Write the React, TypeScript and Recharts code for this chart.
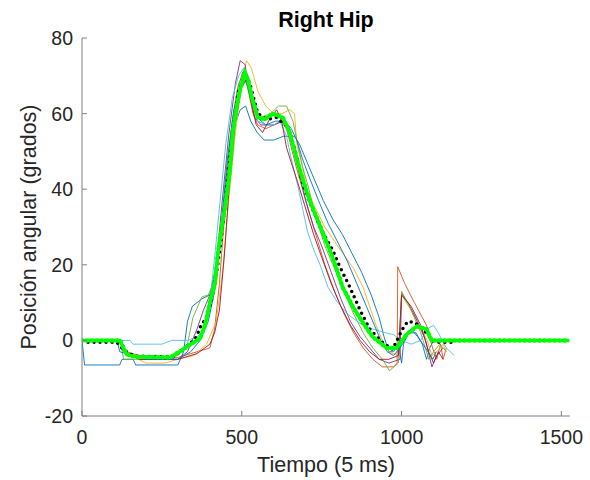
import { LineChart, Line, XAxis, YAxis } from 'recharts'

type Pt = [number, number]

const FONT = '"Liberation Sans", Arial, Helvetica, sans-serif'
const TEXT = '#262626'
const AXIS = '#808080'

const xTicks = [0, 500, 1000, 1500]
const yTicks = [-20, 0, 20, 40, 60, 80]

// individual trials (time in 5 ms samples, angle in degrees)
const trialBlueA: Pt[] = [
  [0, 0], [8, -6.5], [118, -6.5], [125, -5], [160, -5], [168, -6.5], [300, -6.5], [318, -3],
  [330, 5], [345, 9], [375, 11], [400, 12], [412, 14], [425, 22], [440, 33], [458, 48],
  [478, 57], [495, 61], [512, 62], [528, 58], [548, 55], [570, 53], [600, 53], [630, 54],
  [665, 54], [680, 52], [700, 48], [725, 43], [755, 37], [785, 32], [815, 28], [845, 23],
  [875, 18], [905, 12], [930, 6], [945, 1], [960, -3], [975, -3], [990, -1], [1000, -6],
  [1006, -1], [1020, 2], [1045, 2], [1065, -1], [1078, -5], [1088, -2], [1100, 0],
]
const trialOrange: Pt[] = [
  [0, 0], [110, 0], [140, -3], [180, -4], [300, -4.5], [360, -3], [400, -2], [415, 3],
  [430, 15], [445, 32], [465, 54], [485, 66], [503, 71], [518, 67], [535, 60], [550, 57],
  [575, 56], [600, 57], [625, 58], [640, 56], [655, 51], [670, 46], [690, 40], [710, 34],
  [735, 27], [760, 20], [790, 13], [820, 7], [850, 2], [880, -2], [910, -5], [940, -7],
  [975, -7], [986, -6], [988, 19.5], [1010, 15], [1040, 10], [1078, 4], [1097, -2],
  [1110, -5], [1122, -1], [1130, -5], [1140, -2],
]
const trialYellow: Pt[] = [
  [0, 0], [120, 0], [130, -3], [200, -6], [260, -6], [300, -5], [350, -4], [390, -1],
  [420, 5], [440, 18], [460, 38], [480, 55], [500, 68], [515, 74], [530, 72], [550, 66],
  [575, 62], [600, 60], [625, 60], [650, 61], [665, 60], [672, 52], [690, 46], [703, 40],
  [730, 35], [760, 30], [800, 25], [850, 19], [880, 14], [900, 9], [920, 4], [940, 0],
  [960, -3], [990, -4], [1000, 12], [1030, 8], [1060, 3], [1080, 0], [1095, -4],
  [1110, -3], [1130, -1], [1140, -3],
]
const trialPurple: Pt[] = [
  [0, 0], [120, 0], [130, -3], [180, -5], [300, -5], [330, -3], [360, 3], [380, 8],
  [400, 12], [420, 20], [440, 38], [460, 55], [480, 68], [495, 74], [510, 73], [525, 65],
  [540, 59], [560, 57], [600, 57], [630, 58], [650, 56], [665, 50], [680, 44], [700, 37],
  [725, 30], [750, 25], [780, 18], [810, 11], [840, 5], [870, 1], [900, -2], [930, -5],
  [960, -6], [995, -5], [1000, 12.5], [1020, 10], [1050, 5], [1075, 0], [1095, -7],
  [1110, -4], [1130, -2],
]
const trialGreen: Pt[] = [
  [0, 0], [120, 0], [130, -5], [250, -5], [300, -4], [330, -1], [347, 6], [375, 11.5],
  [395, 12], [410, 15], [430, 25], [450, 42], [470, 58], [490, 68], [510, 71], [525, 66],
  [540, 61], [560, 59], [590, 60], [615, 62], [640, 62], [660, 58], [675, 52], [690, 46],
  [710, 40], [730, 33], [760, 25], [790, 19], [820, 13], [850, 7], [880, 2], [910, -2],
  [940, -5], [962, -8], [990, -6], [1000, 13], [1030, 8], [1060, 2], [1085, -5],
  [1100, -3], [1120, -1], [1140, -3],
]
const trialLightBlue: Pt[] = [
  [0, 0], [150, 0], [160, -1], [250, -1], [280, 0], [330, 0], [360, 1], [380, 2],
  [400, 10], [415, 22], [430, 35], [450, 52], [470, 64], [490, 70], [505, 72], [520, 70],
  [535, 63], [550, 58], [575, 57], [600, 57], [619, 58], [640, 54], [655, 48], [675, 41],
  [690, 35], [705, 29], [725, 24], [745, 20], [770, 14], [800, 10], [830, 7], [870, 4.5],
  [910, 3], [950, 2], [975, 1.5], [1000, 0], [1030, -1], [1060, 0], [1080, 3], [1100, 4],
  [1115, 2], [1140, -2], [1165, -4],
]
const trialDarkRed: Pt[] = [
  [0, 0], [120, 0], [130, -3], [180, -5], [300, -5], [360, -3.5], [400, -1], [415, 2],
  [430, 8], [445, 22], [460, 40], [480, 58], [500, 67], [515, 69], [530, 63], [545, 57],
  [565, 55], [590, 59], [609, 61], [625, 58], [640, 51], [655, 47], [672, 42.6], [703, 34],
  [725, 28], [750, 22], [780, 15], [810, 9], [840, 4], [870, 0], [900, -3], [930, -5],
  [960, -5], [990, -4], [1000, 12], [1030, 9], [1060, 4], [1085, -3], [1100, -6],
  [1115, -3], [1130, -5],
]
const trialBlueB: Pt[] = [
  [0, 0], [110, 0], [118, -3], [200, -5], [300, -5], [340, -3], [370, 0], [395, 5],
  [415, 13], [435, 30], [455, 48], [475, 61], [495, 67], [512, 69], [528, 64], [548, 59],
  [575, 57], [605, 58], [635, 58], [655, 56], [672, 53], [690, 48], [712, 43], [740, 37],
  [770, 31], [800, 26], [830, 21], [860, 15], [890, 9], [915, 4], [935, 0], [955, -3],
  [975, -4], [995, -2], [1010, 0], [1030, 3], [1050, 1], [1075, -2], [1098, -5], [1108, -3],
]

// averaged curves
const meanBlack: Pt[] = [
  [19, -0.5], [109, -0.5], [125, -2], [147, -3.5], [172, -4.2], [290, -4.3], [306, -3],
  [337, -1], [359, 1], [369, 3.4], [391, 6.4], [406, 11], [425, 20], [440, 30], [459, 45],
  [466, 51], [487, 65], [509, 71], [525, 68], [550, 60], [580, 58.5], [609, 59], [640, 56.7],
  [650, 55], [666, 50.6], [687, 42.6], [697, 40], [712, 36.5], [722, 34.7], [753, 28.6],
  [784, 24], [806, 19.6], [837, 14.3], [869, 8.2], [900, 3], [940, -0.5], [972, -2.4],
  [987, 0.3], [1003, 3], [1019, 5], [1041, 4.8], [1056, 3.7], [1078, 2], [1100, -0.3],
  [1110, -0.5], [1172, -0.5],
]
const meanGreen: Pt[] = [
  [0, 0], [119, 0], [140, -3.7], [165, -4.3], [275, -4.5], [305, -3], [340, -1], [369, 0.5],
  [385, 4], [400, 10], [416, 15], [425, 23], [447, 35], [462, 44.5], [472, 55], [484, 62],
  [494, 66], [509, 71], [519, 69], [531, 64.5], [550, 59], [572, 58.5], [597, 60], [628, 59],
  [650, 55], [672, 48], [691, 42.5], [712, 37], [744, 30.5], [784, 22], [816, 14], [847, 9],
  [878, 4.8], [909, 1], [953, -2], [984, -2], [1016, 1.6], [1047, 3.7], [1078, 3], [1094, 0],
  [1525, 0],
]

const trials = [
  { name: 't1', color: '#0072BD', pts: trialBlueA },
  { name: 't2', color: '#D95319', pts: trialOrange },
  { name: 't3', color: '#EDB120', pts: trialYellow },
  { name: 't4', color: '#7E2F8E', pts: trialPurple },
  { name: 't5', color: '#77AC30', pts: trialGreen },
  { name: 't6', color: '#4DBEEE', pts: trialLightBlue },
  { name: 't7', color: '#A2142F', pts: trialDarkRed },
  { name: 't8', color: '#0072BD', pts: trialBlueB },
]

const toRows = (pts: Pt[]) => pts.map(([t, v]) => ({ t, v }))

export default function App() {
  const tickStyle = { fontSize: 19.5, fill: TEXT, fontFamily: FONT }
  return (
    <div style={{ position: 'absolute', left: 0, top: 0, width: 590, height: 480, background: '#fff', fontFamily: FONT }}>
      <LineChart width={590} height={480} margin={{ top: 38, right: 20, bottom: 0, left: 0 }}>
        <XAxis
          dataKey="t"
          type="number"
          domain={[0, 1527]}
          ticks={xTicks}
          height={64}
          stroke={AXIS}
          tickSize={-5}
          tickMargin={19}
          tick={tickStyle}
          allowDataOverflow
          label={{ value: 'Tiempo (5 ms)', position: 'insideBottom', offset: 8, fill: TEXT, fontSize: 21.5, fontFamily: FONT }}
        />
        <YAxis
          type="number"
          domain={[-20, 80]}
          ticks={yTicks}
          width={82}
          stroke={AXIS}
          tickSize={-5}
          tickMargin={14}
          tick={tickStyle}
          allowDataOverflow
        />
        {trials.map((s) => (
          <Line
            key={s.name}
            data={toRows(s.pts)}
            dataKey="v"
            stroke={s.color}
            strokeWidth={1}
            strokeOpacity={0.9}
            dot={false}
            isAnimationActive={false}
          />
        ))}
        <Line
          data={toRows(meanBlack)}
          dataKey="v"
          stroke="#000"
          strokeWidth={3.5}
          strokeDasharray="0 6"
          strokeLinecap="round"
          dot={false}
          isAnimationActive={false}
        />
        <Line
          data={toRows(meanGreen)}
          dataKey="v"
          stroke="#00ff00"
          strokeWidth={3.5}
          dot={false}
          isAnimationActive={false}
        />
        <Line
          data={toRows(meanGreen)}
          dataKey="v"
          stroke="#00ff00"
          strokeWidth={4.5}
          strokeDasharray="0 5"
          strokeLinecap="round"
          dot={false}
          isAnimationActive={false}
        />
      </LineChart>
      <div style={{ position: 'absolute', left: 82, width: 488, top: 8, lineHeight: '24px', textAlign: 'center', fontWeight: 'bold', fontSize: 21.5, color: '#000' }}>
        Right Hip
      </div>
      <div
        style={{
          position: 'absolute',
          left: 30,
          top: 227,
          transform: 'translate(-50%, -50%) rotate(-90deg)',
          whiteSpace: 'nowrap',
          fontSize: 21.5,
          lineHeight: 1,
          color: TEXT,
        }}
      >
        Posición angular (grados)
      </div>
    </div>
  )
}
